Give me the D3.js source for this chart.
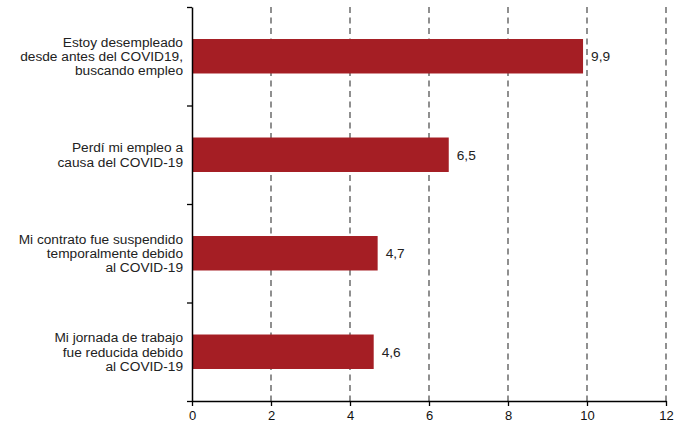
<!DOCTYPE html>
<html><head><meta charset="utf-8">
<script src="https://cdn.jsdelivr.net/npm/d3@7"></script>
<style>body{margin:0;background:#fff}svg{display:block}text{font-family:"Liberation Sans",Arial,sans-serif}</style>
</head><body><svg id="c" width="680" height="422"></svg>
<script>
const categories = [
  ["Estoy desempleado","desde antes del COVID19,","buscando empleo"],
  ["Perdí mi empleo a","causa del COVID-19"],
  ["Mi contrato fue suspendido","temporalmente debido","al COVID-19"],
  ["Mi jornada de trabajo","fue reducida debido","al COVID-19"]
];
const values = [9.9, 6.5, 4.7, 4.6];
const valueLabels = ["9,9","6,5","4,7","4,6"];
const xTicks = [0,2,4,6,8,10,12];

const W=680,H=422,m={l:192,r:14,t:7,b:21};
const svg=d3.select("#c");
const x=d3.scaleLinear().domain([0,12]).range([m.l,W-m.r]);
const y=d3.scaleBand().domain(d3.range(categories.length)).range([m.t,H-m.b]).paddingInner(0.65).paddingOuter(0.325);
const yb=d3.scaleLinear().domain([0,categories.length]).range([m.t,H-m.b]);

// grid
svg.append("g").selectAll("line").data(xTicks.slice(1)).join("line")
  .attr("x1",d=>x(d)).attr("x2",d=>x(d)).attr("y1",m.t).attr("y2",H-m.b)
  .attr("stroke","#555").attr("stroke-width",1.3).attr("stroke-dasharray","6,4.5");

// bars
svg.append("g").selectAll("rect").data(values).join("rect")
  .attr("x",x(0)).attr("y",(d,i)=>y(i)).attr("width",d=>x(d)-x(0)).attr("height",y.bandwidth())
  .attr("fill","#A51E24");

// value labels
svg.append("g").selectAll("text").data(values).join("text")
  .attr("x",d=>x(d)+8).attr("y",(d,i)=>y(i)+y.bandwidth()/2).attr("dy","0.35em")
  .attr("font-size",13.7).attr("fill","#222").text((d,i)=>valueLabels[i]);

// category labels
const cl=svg.append("g").selectAll("text").data(categories).join("text")
  .attr("text-anchor","end").attr("font-size",13.7).attr("fill","#222")
  .attr("transform",(d,i)=>`translate(183,${y(i)+y.bandwidth()/2})`);
cl.each(function(d){
  const t=d3.select(this), n=d.length, lh=14.2;
  d.forEach((s,j)=>t.append("tspan").attr("x",0).attr("y",(j-(n-1)/2)*lh).attr("dy","0.35em").text(s));
});

// x axis
const xa=svg.append("g").attr("transform",`translate(0,${H-m.b})`)
  .call(d3.axisBottom(x).tickValues(xTicks).tickSize(5).tickSizeOuter(0).tickFormat(d3.format("d")));
xa.select(".domain").attr("stroke","#000").attr("stroke-width",1.5);
xa.selectAll(".tick line").attr("stroke","#000").attr("stroke-width",1.3);
xa.selectAll(".tick text").attr("font-size",13).attr("fill","#111").attr("dy","0.85em").attr("font-family","Liberation Sans, Arial, sans-serif");

// y axis
const ya=svg.append("g").attr("transform",`translate(${m.l},0)`)
  .call(d3.axisLeft(yb).ticks(4).tickSize(5).tickSizeOuter(0).tickFormat(""));
ya.select(".domain").attr("stroke","#000").attr("stroke-width",1.5);
ya.selectAll(".tick line").attr("stroke","#000").attr("stroke-width",1.3);
</script></body></html>
